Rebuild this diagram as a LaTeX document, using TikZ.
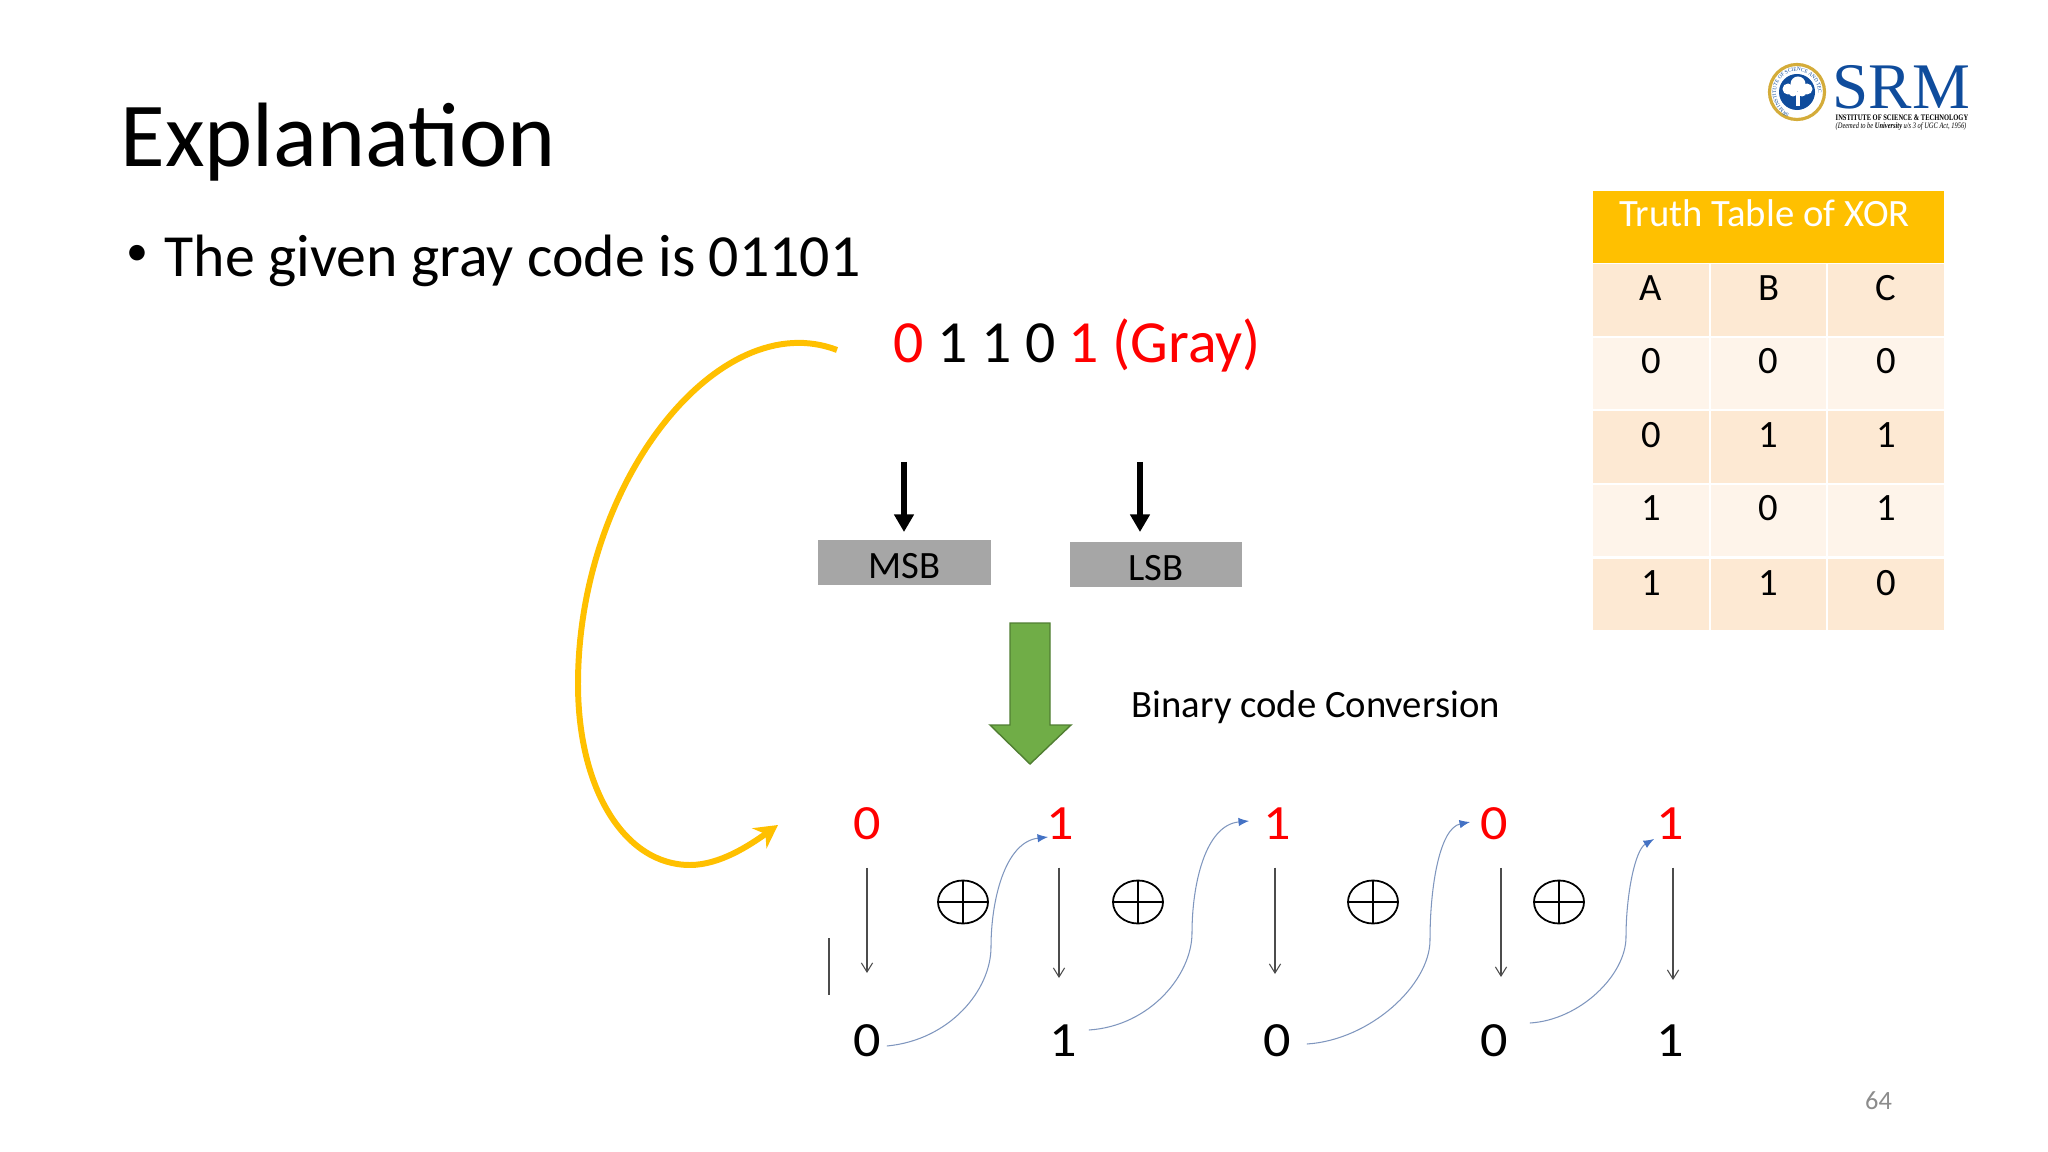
\documentclass[tikz,border=0pt]{standalone}
\usepackage{fontspec}
\setmainfont{Carlito}
\newfontfamily\digitfont[FakeStretch=1.1]{Carlito}
\newfontfamily\logofont{Liberation Serif}
\newfontfamily\logosmall[FakeStretch=0.77]{Liberation Serif}
\usetikzlibrary{arrows.meta}
\usetikzlibrary{shapes.geometric}
\usetikzlibrary{decorations.text}
\definecolor{xorgold}{HTML}{FFC000}
\definecolor{rowdark}{HTML}{FDE9D3}
\definecolor{rowlight}{HTML}{FEF4EA}
\definecolor{srmblue}{HTML}{0F4C9C}
\definecolor{srmgold}{HTML}{D4AC3A}
\definecolor{curveline}{HTML}{7F96BE}
\definecolor{curvehead}{HTML}{4472C4}
\definecolor{greenfill}{HTML}{70AD47}
\definecolor{greenline}{HTML}{507E32}

\begin{document}
\begin{tikzpicture}[x=0.01cm, y=-0.01cm]
    \tikzset{digit/.style = {font=\digitfont\fontsize{14}{14}\selectfont, inner xsep=0.055cm, inner ysep=0.27cm}}
    \tikzset{reddigit/.style = {digit, text=red}}
    \tikzset{bitbox/.style = {fill=black!35, minimum width=1.72cm, inner sep=0, text height=0.38cm, text depth=0.07cm, font=\fontsize{11}{11}\selectfont}}
    \tikzset{cell/.style = {draw=white, line width=0.5pt, minimum width=1.17cm, inner sep=0, text height=0.37cm, text depth=0.36cm, font=\fontsize{11}{11}\selectfont}}
    \tikzset{xorsign/.style = {shape=ellipse, draw, line width=0.5pt, minimum width=0.5cm, minimum height=0.43cm, inner sep=0}}
    \tikzset{edge/.style = {draw=black!70, line width=0.3pt, -{Straight Barb[length=2.6pt,width=3.2pt]}}}
    \tikzset{bigedge/.style = {line width=1.9pt, -{Triangle[length=5pt,width=5.4pt]}}}
    \tikzset{curve/.style = {draw=curveline, line width=0.3pt, -{Latex[length=3pt,width=2.4pt,color=curvehead]}}}
    \useasboundingbox (0,0) rectangle (2048,1152);

    % title and first line
    \node[anchor=base west, inner sep=0, font=\fontsize{26}{26}\selectfont] (title) at (120,167) {Explanation};
    \node[anchor=base west, inner sep=0, font=\fontsize{12.5}{12.5}\selectfont] (bullet) at (126,266) {•};
    \node[anchor=base west, inner sep=0, font=\fontsize{17}{17}\selectfont] (given) at (164,277) {The given gray code is 01101};
    \node[anchor=base west, inner sep=0, font=\fontsize{17}{17}\selectfont] (gray) at (893,363) {\textcolor{red}{0} 1 1 0 \textcolor{red}{1 (Gray)}};

    % msb and lsb
    \node[bitbox] (msb) at (904.5,562.5) {MSB};
    \node[bitbox] (lsb) at (1156,564.5) {LSB};
    \coordinate (msbtop) at (904,462);
    \coordinate (lsbtop) at (1140,462);
    \coordinate (msbtip) at (904,532);
    \coordinate (lsbtip) at (1140,532);
    \draw[bigedge] (msbtop) to (msbtip);
    \draw[bigedge] (lsbtop) to (lsbtip);

    % green arrow
    \draw[draw=greenline, line width=0.4pt, fill=greenfill] (1010,623) -- (1050,623) -- (1050,725) -- (1071,725) -- (1030,764) -- (990,725) -- (1010,725) -- cycle;
    \node[anchor=base west, inner sep=0, font=\fontsize{11}{11}\selectfont] (conv) at (1131,717) {Binary code Conversion};

    % digits
    \node[reddigit] (r1) at (867,824) {0};
    \node[reddigit] (r2) at (1060,824) {1};
    \node[reddigit] (r3) at (1277,824) {1};
    \node[reddigit] (r4) at (1494,824) {0};
    \node[reddigit] (r5) at (1670,824) {1};
    \node[digit] (k1) at (867,1041) {0};
    \node[digit] (k2) at (1063,1041) {1};
    \node[digit] (k3) at (1277,1041) {0};
    \node[digit] (k4) at (1494,1041) {0};
    \node[digit] (k5) at (1670,1041) {1};

    % xor signs
    \node[xorsign] (x1) at (963,902) {};
    \node[xorsign] (x2) at (1138,902) {};
    \node[xorsign] (x3) at (1373,902) {};
    \node[xorsign] (x4) at (1559,902) {};
    \draw[line width=0.5pt] (x1.north) -- (x1.south) (x1.west) -- (x1.east);
    \draw[line width=0.5pt] (x2.north) -- (x2.south) (x2.west) -- (x2.east);
    \draw[line width=0.5pt] (x3.north) -- (x3.south) (x3.west) -- (x3.east);
    \draw[line width=0.5pt] (x4.north) -- (x4.south) (x4.west) -- (x4.east);

    % down arrows
    \coordinate (e1) at (867,973);
    \coordinate (e2) at (1059,978);
    \coordinate (e3) at (1275,974);
    \coordinate (e4) at (1501,977);
    \coordinate (e5) at (1673,980);
    \draw[edge] (e1 |- r1.south) to (e1);
    \draw[edge] (e2 |- r2.south) to (e2);
    \draw[edge] (e3 |- r3.south) to (e3);
    \draw[edge] (e4 |- r4.south) to (e4);
    \draw[edge] (e5 |- r5.south) to (e5);
    \coordinate (tick1) at (829,938);
    \coordinate (tick2) at (829,995);
    \draw[draw=black!70, line width=0.3pt] (tick1) -- (tick2);

    % curved arrows
    \draw[curve] ([shift={(0,5)}]k1.east) .. controls (950,1040) and (991,990) .. (991,947) .. controls (991,900) and (1005,842) .. ([shift={(8,13)}]r2.west);
    \draw[curve] ([shift={(6,-11)}]k2.east) .. controls (1150,1026) and (1192,975) .. (1192,933) .. controls (1192,885) and (1205,825) .. ([shift={(-8,-3)}]r3.west);
    \draw[curve] ([shift={(10,3)}]k3.east) .. controls (1370,1040) and (1430,985) .. (1430,940) .. controls (1430,885) and (1440,828) .. ([shift={(-4,-2)}]r4.west);
    \draw[curve] ([shift={(16,-18)}]k4.east) .. controls (1580,1020) and (1626,975) .. (1626,937) .. controls (1626,895) and (1635,850) .. ([shift={(4,15)}]r5.west);

    % yellow loop
    \coordinate (loopstart) at (837,350);
    \coordinate (loopend) at (778,825);
    \draw[draw=xorgold, line width=1.7pt, -{Stealth[length=6.5pt,width=7pt]}] (loopstart) .. controls (720,305) and (578,480) .. (578,684) .. controls (578,790) and (625,865) .. (690,865) .. controls (720,865) and (750,845) .. (loopend);

    % truth table
    \node[fill=xorgold, text=white, minimum width=3.51cm, inner sep=0, text height=0.36cm, text depth=0.36cm, font=\fontsize{11}{11}\selectfont] (head) at (1768.5,227) {Truth Table of XOR\hspace*{0.08cm}};
    \node[cell, fill=rowdark] (a0) at (1651,300) {A};
    \node[cell, fill=rowdark] (b0) at (1768.5,300) {B};
    \node[cell, fill=rowdark] (c0) at (1886,300) {C};
    \node[cell, fill=rowlight] (a1) at (1651,373.5) {0};
    \node[cell, fill=rowlight] (b1) at (1768.5,373.5) {0};
    \node[cell, fill=rowlight] (c1) at (1886,373.5) {0};
    \node[cell, fill=rowdark] (a2) at (1651,447) {0};
    \node[cell, fill=rowdark] (b2) at (1768.5,447) {1};
    \node[cell, fill=rowdark] (c2) at (1886,447) {1};
    \node[cell, fill=rowlight] (a3) at (1651,520.5) {1};
    \node[cell, fill=rowlight] (b3) at (1768.5,520.5) {0};
    \node[cell, fill=rowlight] (c3) at (1886,520.5) {1};
    \node[cell, fill=rowdark] (a4) at (1651,594.5) {1};
    \node[cell, fill=rowdark] (b4) at (1768.5,594.5) {1};
    \node[cell, fill=rowdark] (c4) at (1886,594.5) {0};

    % logo
    \fill[draw=srmgold, line width=0.9pt, fill=white] (1797,92) circle (0.275cm);
    \fill[srmblue] (1797,92) circle (0.18cm);
    \fill[white] (1788,89) circle (0.055cm);
    \fill[white] (1798,84) circle (0.075cm);
    \fill[white] (1807,89) circle (0.055cm);
    \fill[white] (1793,92) circle (0.045cm);
    \fill[white] (1802,92) circle (0.045cm);
    \fill[white] (1796,92) rectangle (1800,106);
    \path[decorate, decoration={text along path, text align=center, text color=srmblue, text={|\logofont\fontsize{1.5}{1.5}\selectfont|SRM INSTITUTE OF SCIENCE AND TECHNOLOGY}}] (1776,92) arc[start angle=180, end angle=0, radius=0.21cm];
    \node[anchor=base west, inner sep=0, text=srmblue, font=\logofont\fontsize{18.5}{18.5}\selectfont] (srm) at (1832,109) {SRM};
    \node[anchor=base west, inner sep=0, font=\logosmall\bfseries\fontsize{2.4}{3}\selectfont] (inst) at (1835,121) {INSTITUTE OF SCIENCE \& TECHNOLOGY};
    \node[anchor=base west, inner sep=0, font=\logosmall\itshape\fontsize{2.38}{3}\selectfont] (deemed) at (1835,128.5) {(Deemed to be \textbf{University} u/s 3 of UGC Act, 1956)};

    % page number
    \node[text=black!45, inner sep=0, font=\fontsize{7.5}{7.5}\selectfont] (page) at (1878.5,1100.5) {64};
\end{tikzpicture}
\end{document}
